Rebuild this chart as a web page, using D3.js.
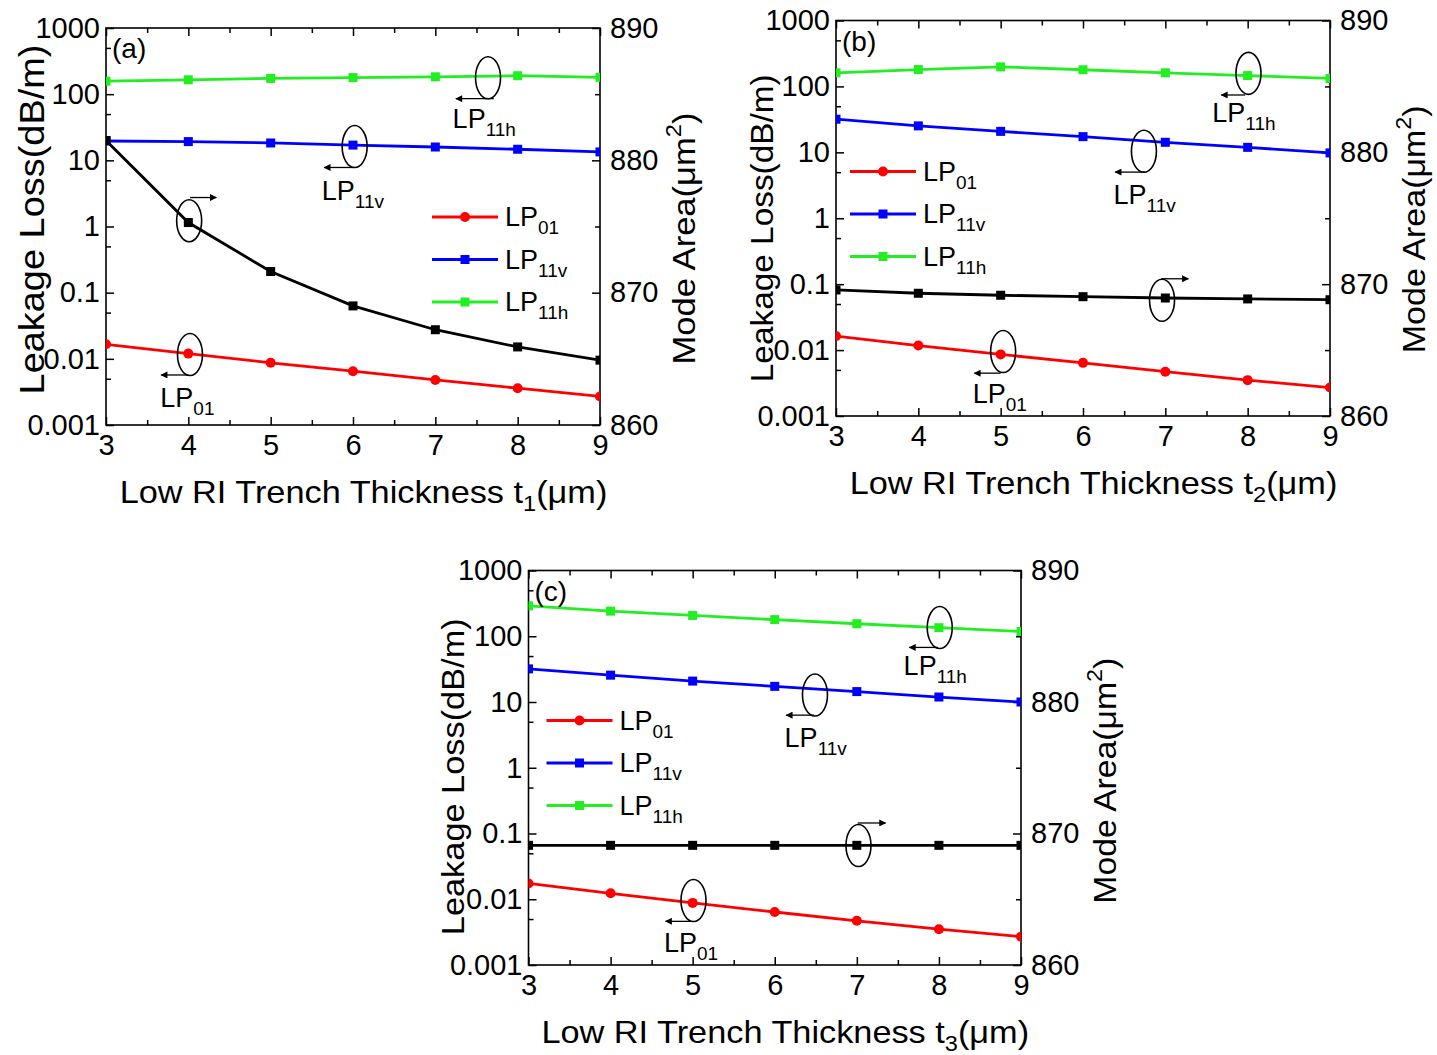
<!DOCTYPE html>
<html><head><meta charset="utf-8">
<script src="https://cdn.jsdelivr.net/npm/d3@7"></script>
<style>
body{margin:0;background:#fff}
text{font-family:"Liberation Sans",Arial,sans-serif;fill:#000}
</style>
</head><body>
<svg id="chart" width="1437" height="1055"></svg>
<script>
// ---------- data ----------
const tValues = [3, 4, 5, 6, 7, 8, 9];
const xTicks = [3, 4, 5, 6, 7, 8, 9];
const xMinorTicks = [3.5, 4.5, 5.5, 6.5, 7.5, 8.5];
const lossTicks = [0.001, 0.01, 0.1, 1, 10, 100, 1000];
const lossTickLabels = ["0.001", "0.01", "0.1", "1", "10", "100", "1000"];
const lossMinorTicks = [0.005, 0.05, 0.5, 5, 50, 500];
const areaTicks = [860, 870, 880, 890];
const areaMinorTicks = [865, 875, 885];

// panel (a): varying t1
const lp01A  = [0.0166, 0.0120, 0.0087, 0.0065, 0.0048, 0.0036, 0.0027];
const lp11vA = [19.6, 19.2, 18.3, 17.0, 15.9, 14.7, 13.4];
const lp11hA = [157, 165, 173, 178, 183, 190, 180];
const areaA  = [881.5, 875.3, 871.6, 869.0, 867.2, 865.9, 864.9];
// panel (b): varying t2
const lp01B  = [0.0163, 0.0117, 0.0086, 0.0064, 0.0047, 0.0035, 0.0027];
const lp11vB = [31.8, 25.2, 20.8, 17.3, 14.2, 11.9, 9.8];
const lp11hB = [161, 180, 198, 179, 161, 146, 132];
const areaB  = [869.56, 869.31, 869.16, 869.05, 868.95, 868.88, 868.82];
// panel (c): varying t3
const lp01C  = [0.0174, 0.0123, 0.0088, 0.0064, 0.0047, 0.0035, 0.0027];
const lp11vC = [31.9, 25.6, 20.8, 17.3, 14.4, 11.9, 10.0];
const lp11hC = [290, 241, 207, 179, 155, 135, 118];
const areaC  = [869.1, 869.1, 869.1, 869.1, 869.1, 869.1, 869.1];

// annotation anchors in data units (t, mode-area units)
const annA = [
  {t: 7.64, v: 886.24, arrowV: 884.66, from: 7.71, to: 7.25, sub: "11h", labelT: 7.21, labelV: 882.47},
  {t: 6.02, v: 881.04, arrowV: 879.46, from: 6.01, to: 5.65, sub: "11v", labelT: 5.62, labelV: 877.03},
  {t: 4.01, v: 875.44, arrowV: 877.19, from: 4.02, to: 4.34, sub: null},
  {t: 4.02, v: 865.33, arrowV: 863.78, from: 4.00, to: 3.67, sub: "01", labelT: 3.66, labelV: 861.38}
];
const annB = [
  {t: 8.01, v: 885.99, arrowV: 884.35, from: 7.97, to: 7.68, sub: "11h", labelT: 7.57, labelV: 882.29},
  {t: 6.74, v: 880.08, arrowV: 878.50, from: 6.75, to: 6.39, sub: "11v", labelT: 6.37, labelV: 876.06},
  {t: 6.96, v: 868.78, arrowV: 870.41, from: 6.95, to: 7.28, sub: null},
  {t: 5.03, v: 864.89, arrowV: 863.25, from: 5.00, to: 4.68, sub: "01", labelT: 4.66, labelV: 860.99}
];
const annC = [
  {t: 8.01, v: 885.66, arrowV: 884.15, from: 7.99, to: 7.64, sub: "11h", labelT: 7.57, labelV: 882.09},
  {t: 6.49, v: 880.53, arrowV: 879.00, from: 6.48, to: 6.14, sub: "11v", labelT: 6.12, labelV: 876.57},
  {t: 7.02, v: 869.09, arrowV: 870.80, from: 7.01, to: 7.35, sub: null},
  {t: 5.01, v: 864.90, arrowV: 863.32, from: 4.98, to: 4.67, sub: "01", labelT: 4.65, labelV: 861.00}
];

// ---------- layout ----------
const panels = [
  {label: "(a)", tsub: "1", left: 106, top: 28, width: 494, height: 397,
   lp01: lp01A, lp11v: lp11vA, lp11h: lp11hA, area: areaA, ann: annA, legX: 326, legY: 189,
   lTitle: {fs: 35, len: 350, dy: -7, bx: -62}, rTitle: {len: 252, dy: 12}},
  {label: "(b)", tsub: "2", left: 836, top: 20.5, width: 494, height: 395.5,
   lp01: lp01B, lp11v: lp11vB, lp11h: lp11hB, area: areaB, ann: annB, legX: 14, legY: 151,
   lTitle: {fs: 31, len: 308, dy: 10, bx: -63}, rTitle: {len: 248, dy: 11}},
  {label: "(c)", tsub: "3", left: 528.5, top: 570.5, width: 492.5, height: 394.5,
   lp01: lp01C, lp11v: lp11vC, lp11h: lp11hC, area: areaC, ann: annC, legX: 18, legY: 150,
   lTitle: {fs: 32, len: 317, dy: 9, bx: -65}, rTitle: {len: 246, dy: 13}}
];

const colors = {lp01: "#ff0000", lp11v: "#0000ff", lp11h: "#22ee22", area: "#000000"};
const FS = 27, SUBFS = 19, TICKFS = 29;

const svg = d3.select("#chart");
svg.append("rect").attr("width", 1437).attr("height", 1055).attr("fill", "#fff");

const defs = svg.append("defs");
defs.append("marker").attr("id", "arrowhead").attr("viewBox", "0 0 10 10")
  .attr("refX", 9).attr("refY", 5).attr("markerWidth", 9).attr("markerHeight", 7)
  .attr("markerUnits", "userSpaceOnUse").attr("orient", "auto")
  .append("path").attr("d", "M0,0 L10,5 L0,10 Z").attr("fill", "#000");

function lpText(sel, x, y, sub, fs, subfs) {
  const t = sel.append("text").attr("x", x).attr("y", y).attr("font-size", fs);
  t.append("tspan").text("LP");
  t.append("tspan").attr("font-size", subfs).attr("dy", fs * 0.3).text(sub);
  return t;
}
// fit a text element (anchored at its origin) to a target length along its baseline
function fitText(t, tx, ty, rot, target) {
  const w = t.node().getBBox().width;
  const s = target / w;
  t.attr("transform", `translate(${tx},${ty})${rot ? " rotate(" + rot + ")" : ""} scale(${s},1)`);
}

panels.forEach((p, pi) => {
  const g = svg.append("g").attr("transform", `translate(${p.left},${p.top})`);
  const x = d3.scaleLinear().domain([3, 9]).range([0, p.width]);
  const yL = d3.scaleLog().domain([0.001, 1000]).range([p.height, 0]);
  const yR = d3.scaleLinear().domain([860, 890]).range([p.height, 0]);

  const clipId = "clip" + pi;
  defs.append("clipPath").attr("id", clipId).append("rect")
    .attr("x", 0).attr("y", 0).attr("width", p.width).attr("height", p.height);

  // axes
  const axBottom = g.append("g").attr("transform", `translate(0,${p.height})`)
    .call(d3.axisBottom(x).tickValues(xTicks).tickFormat(d3.format("d"))
      .tickSizeInner(-8).tickSizeOuter(0).tickPadding(9));
  const axBottomMinor = g.append("g").attr("transform", `translate(0,${p.height})`)
    .call(d3.axisBottom(x).tickValues(xMinorTicks).tickFormat("").tickSizeInner(-5).tickSizeOuter(0));
  const axTop = g.append("g")
    .call(d3.axisTop(x).tickValues(xTicks).tickFormat("").tickSizeInner(-8).tickSizeOuter(0));
  const axTopMinor = g.append("g")
    .call(d3.axisTop(x).tickValues(xMinorTicks).tickFormat("").tickSizeInner(-5).tickSizeOuter(0));
  const axLeft = g.append("g")
    .call(d3.axisLeft(yL).tickValues(lossTicks).tickFormat((d, i) => lossTickLabels[i])
      .tickSizeInner(-8).tickSizeOuter(0).tickPadding(6));
  const axLeftMinor = g.append("g")
    .call(d3.axisLeft(yL).tickValues(lossMinorTicks).tickFormat("").tickSizeInner(-5).tickSizeOuter(0));
  const axRight = g.append("g").attr("transform", `translate(${p.width},0)`)
    .call(d3.axisRight(yR).tickValues(areaTicks).tickFormat(d3.format("d"))
      .tickSizeInner(-8).tickSizeOuter(0).tickPadding(10));
  const axRightMinor = g.append("g").attr("transform", `translate(${p.width},0)`)
    .call(d3.axisRight(yR).tickValues(areaMinorTicks).tickFormat("").tickSizeInner(-5).tickSizeOuter(0));

  [axBottom, axBottomMinor, axTop, axTopMinor, axLeft, axLeftMinor, axRight, axRightMinor].forEach(a => {
    a.select(".domain").remove();
    a.selectAll("line").attr("stroke", "#000").attr("stroke-width", 1.5);
    a.selectAll("text").attr("font-size", TICKFS).attr("font-family", '"Liberation Sans",Arial,sans-serif').attr("fill", "#000");
  });

  // frame
  g.append("rect").attr("width", p.width).attr("height", p.height)
    .attr("fill", "none").attr("stroke", "#000").attr("stroke-width", 1.6);

  // data
  const plot = g.append("g").attr("clip-path", `url(#${clipId})`);
  const series = [
    {vals: p.lp01, color: colors.lp01, y: yL, marker: "circle"},
    {vals: p.lp11v, color: colors.lp11v, y: yL, marker: "square"},
    {vals: p.lp11h, color: colors.lp11h, y: yL, marker: "square"},
    {vals: p.area, color: colors.area, y: yR, marker: "square"}
  ];
  series.forEach(s => {
    const pts = tValues.map((t, i) => [t, s.vals[i]]);
    const line = d3.line().x(d => x(d[0])).y(d => s.y(d[1])).curve(d3.curveLinear);
    plot.append("path").attr("d", line(pts)).attr("fill", "none")
      .attr("stroke", s.color).attr("stroke-width", 2.8);
    if (s.marker === "circle") {
      plot.selectAll(null).data(pts).enter().append("circle")
        .attr("cx", d => x(d[0])).attr("cy", d => s.y(d[1])).attr("r", 5).attr("fill", s.color);
    } else {
      plot.selectAll(null).data(pts).enter().append("rect")
        .attr("x", d => x(d[0]) - 4.5).attr("y", d => s.y(d[1]) - 4.5)
        .attr("width", 9).attr("height", 9).attr("fill", s.color);
    }
  });

  // annotations
  p.ann.forEach(a => {
    g.append("ellipse").attr("cx", x(a.t)).attr("cy", yR(a.v)).attr("rx", 12.5).attr("ry", 21)
      .attr("fill", "none").attr("stroke", "#000").attr("stroke-width", 1.6);
    g.append("line").attr("x1", x(a.from)).attr("x2", x(a.to))
      .attr("y1", yR(a.arrowV)).attr("y2", yR(a.arrowV))
      .attr("stroke", "#000").attr("stroke-width", 1.3).attr("marker-end", "url(#arrowhead)");
    if (a.sub) lpText(g, x(a.labelT), yR(a.labelV), a.sub, FS, SUBFS);
  });

  // legend
  const leg = g.append("g").attr("transform", `translate(${p.legX},${p.legY})`);
  const legSeries = [
    {sub: "01", color: colors.lp01, marker: "circle"},
    {sub: "11v", color: colors.lp11v, marker: "square"},
    {sub: "11h", color: colors.lp11h, marker: "square"}
  ];
  legSeries.forEach((s, i) => {
    const yy = i * 42.5;
    leg.append("line").attr("x1", 0).attr("x2", 66).attr("y1", yy).attr("y2", yy)
      .attr("stroke", s.color).attr("stroke-width", 2.8);
    if (s.marker === "circle") leg.append("circle").attr("cx", 33).attr("cy", yy).attr("r", 5).attr("fill", s.color);
    else leg.append("rect").attr("x", 28.5).attr("y", yy - 4.5).attr("width", 9).attr("height", 9).attr("fill", s.color);
    lpText(leg, 73, yy + 9, s.sub, FS, SUBFS);
  });

  // panel label
  g.append("text").attr("x", 6).attr("y", 30).attr("font-size", 28).text(p.label);

  // axis titles
  const xt = g.append("text").attr("text-anchor", "middle").attr("font-size", 32);
  xt.append("tspan").text("Low RI Trench Thickness t");
  xt.append("tspan").attr("font-size", 22).attr("dy", 8).text(p.tsub);
  xt.append("tspan").attr("dy", -8).text("(\u03bcm)");
  fitText(xt, p.width / 2 + 10.5, p.height + 78, 0, 488);

  const lt = g.append("text").attr("text-anchor", "middle").attr("font-size", p.lTitle.fs)
    .text("Leakage Loss(dB/m)");
  fitText(lt, p.lTitle.bx, p.height / 2 + p.lTitle.dy, -90, p.lTitle.len);

  const rt = g.append("text").attr("text-anchor", "middle").attr("font-size", 32);
  rt.append("tspan").text("Mode Area(\u03bcm");
  rt.append("tspan").attr("font-size", 22).attr("dy", -14).text("2");
  rt.append("tspan").attr("dy", 14).text(")");
  fitText(rt, p.width + 95, p.height / 2 + p.rTitle.dy, -90, p.rTitle.len);
});
</script>
</body></html>
